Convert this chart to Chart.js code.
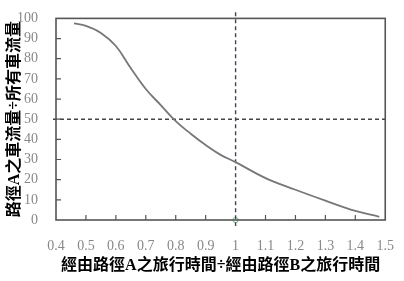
<!DOCTYPE html>
<html>
<head>
<meta charset="utf-8">
<script src="https://cdn.jsdelivr.net/npm/chart.js@4.4.1/dist/chart.umd.min.js"></script>
<style>
  html, body { margin: 0; padding: 0; background: #fff; }
  #wrap { width: 404px; height: 281px; }
</style>
</head>
<body>
<div id="wrap"><canvas id="chart"></canvas></div>
<script>
// travel time ratio (A / B) and share of traffic on route A (%)
const ratioValues = [0.46, 0.5, 0.55, 0.6, 0.65, 0.7, 0.75, 0.8, 0.85, 0.9, 0.95, 1.0, 1.1, 1.2, 1.3, 1.4, 1.48];
const shareValues = [97.5, 96.3, 92.8, 86.3, 75.3, 65, 57, 49, 42.8, 37.2, 32.3, 28.7, 20.8, 15, 9.6, 4.5, 1.6];

const xTicks = [0.4, 0.5, 0.6, 0.7, 0.8, 0.9, 1, 1.1, 1.2, 1.3, 1.4, 1.5];
const yTicks = [0, 10, 20, 30, 40, 50, 60, 70, 80, 90, 100];

// reference lines: 50% share, ratio = 1
const halfShare = 50;
const equalRatio = 1;

const xTitle = '經由路徑A之旅行時間÷經由路徑B之旅行時間';
const yTitle = '路徑A之車流量÷所有車流量';

const titleFont = { family: '"Liberation Serif", "Noto Sans CJK TC"', size: 16, weight: 'bold' };
const tickFont = { family: '"Liberation Serif", "Times New Roman", serif', size: 14 };

// frame and inward tick marks
const framePlugin = {
    id: 'frame',
    afterDraw(chart) {
        const { ctx, chartArea: a, scales } = chart;
        ctx.save();
        ctx.strokeStyle = '#555';
        ctx.lineWidth = 1.6;
        ctx.strokeRect(a.left, a.top, a.right - a.left, a.bottom - a.top);
        ctx.lineWidth = 1.2;
        ctx.beginPath();
        xTicks.slice(1, -1).forEach(v => {
            if (v === equalRatio) return;
            const px = scales.x.getPixelForValue(v);
            ctx.moveTo(px, a.bottom);
            ctx.lineTo(px, a.bottom - 5);
        });
        yTicks.slice(1, -1).forEach(v => {
            const py = scales.y.getPixelForValue(v);
            ctx.moveTo(a.left, py);
            ctx.lineTo(a.left + 5, py);
        });
        ctx.stroke();
        ctx.restore();
    }
};

new Chart(document.getElementById('chart'), {
    type: 'line',
    data: {
        datasets: [
            {
                label: 'share',
                data: ratioValues.map((x, i) => ({ x: x, y: shareValues[i] })),
                borderColor: '#777',
                borderWidth: 1.8,
                pointRadius: 0,
                tension: 0.4
            },
            {
                label: 'half',
                data: [{ x: 0.39, y: halfShare }, { x: 1.5, y: halfShare }],
                borderColor: '#444',
                borderWidth: 1.4,
                borderDash: [4, 3],
                pointRadius: 0,
                clip: false
            },
            {
                label: 'equal',
                data: [{ x: equalRatio, y: 103 }, { x: equalRatio, y: -3 }],
                borderColor: '#445',
                borderWidth: 1.4,
                borderDash: [4, 3],
                pointRadius: 0,
                clip: false
            },
            {
                label: 'marker',
                data: [{ x: equalRatio, y: 0 }],
                showLine: false,
                pointRadius: 2.5,
                pointBorderColor: '#8fd0a8',
                pointBackgroundColor: 'rgba(0,0,0,0)',
                pointBorderWidth: 1.2,
                clip: false
            }
        ]
    },
    options: {
        responsive: true,
        maintainAspectRatio: false,
        animation: false,
        layout: { padding: { top: 11, right: 16, left: 0, bottom: 0 } },
        plugins: {
            legend: { display: false },
            tooltip: { enabled: false }
        },
        scales: {
            x: {
                type: 'linear',
                min: 0.4,
                max: 1.5,
                afterBuildTicks: s => { s.ticks = xTicks.map(v => ({ value: v })); },
                afterFit: s => { s.height = 61; },
                grid: { display: false },
                border: { display: false },
                ticks: {
                    color: '#888',
                    font: tickFont,
                    padding: 10,
                    maxRotation: 0,
                    autoSkip: false,
                    callback: v => String(Math.round(v * 10) / 10)
                },
                title: {
                    display: true,
                    text: xTitle,
                    color: '#000',
                    font: titleFont,
                    padding: { top: 0, bottom: 6 }
                }
            },
            y: {
                type: 'linear',
                min: 0,
                max: 100,
                afterBuildTicks: s => { s.ticks = yTicks.map(v => ({ value: v })); },
                afterFit: s => { s.width = 56; },
                grid: { display: false },
                border: { display: false },
                ticks: {
                    color: '#888',
                    font: tickFont,
                    padding: 10,
                    autoSkip: false
                },
                title: {
                    display: true,
                    text: yTitle,
                    color: '#000',
                    font: titleFont,
                    padding: { top: 5, bottom: 0 }
                }
            }
        }
    },
    plugins: [framePlugin]
});
</script>
</body>
</html>
